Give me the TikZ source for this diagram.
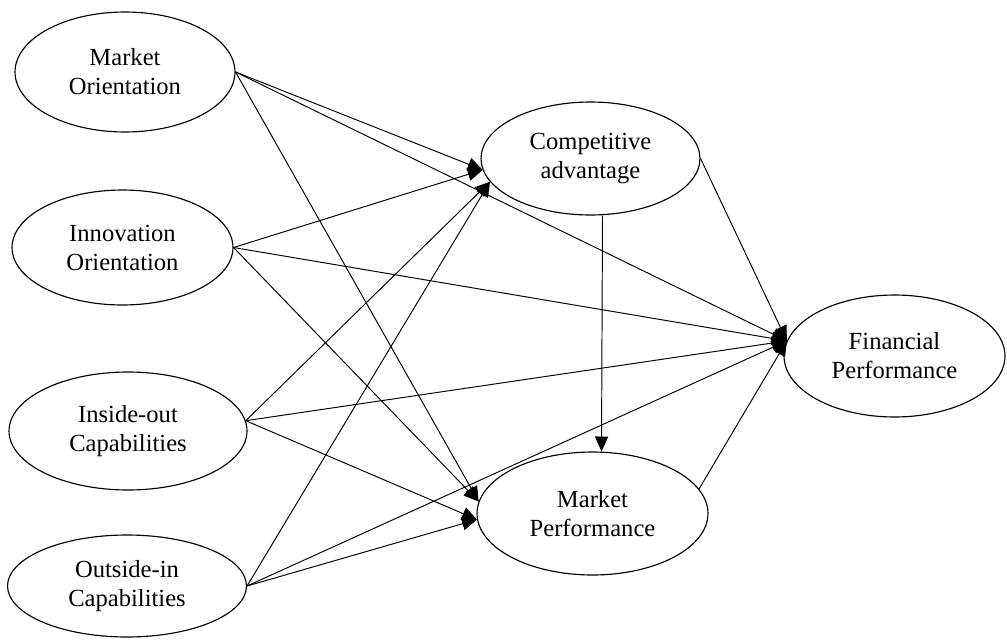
\documentclass[tikz,border=0pt]{standalone}
\usepackage{fontspec}
\setmainfont{Liberation Serif}
\usetikzlibrary{shapes.geometric}
\usetikzlibrary{arrows.meta}

\begin{document}
\begin{tikzpicture}[
        x = 0.02cm, y = -0.02cm,
        construct/.style = {shape = ellipse, draw = black, line width = 0.65pt, inner sep = 0pt, align = center, font = \fontsize{14}{16.5}\selectfont},
        arr/.style = {-{Triangle[length = 8.5pt, width = 7.5pt]}, line width = 0.55pt},
    ]
    \useasboundingbox (0,0) rectangle (1007,639);
    \node[construct, minimum width = 4.40cm, minimum height = 2.40cm] (MO) at (125,72) {Market\\Orientation};
    \node[construct, minimum width = 4.42cm, minimum height = 2.30cm] (IO) at (122.5,247.5) {Innovation\\Orientation};
    \node[construct, minimum width = 4.76cm, minimum height = 2.36cm] (IC) at (128,431) {Inside-out\\Capabilities};
    \node[construct, minimum width = 4.78cm, minimum height = 2.04cm] (OC) at (127,586) {Outside-in\\Capabilities};
    \node[construct, minimum width = 4.38cm, minimum height = 2.26cm] (CA) at (590.5,158.5) {Competitive\\advantage};
    \node[construct, minimum width = 4.62cm, minimum height = 2.46cm] (MP) at (592.5,513.5) {Market\\Performance};
    \node[construct, minimum width = 4.42cm, minimum height = 2.44cm] (FP) at (894.5,356) {Financial\\Performance};

    \path[arr] (MO.east) edge (CA.186);
    \path[arr] (MO.east) edge (FP.172);
    \path[arr] (MO.east) edge (MP.174);
    \path[arr] (IO.east) edge (CA.186);
    \path[arr] (IO.east) edge (FP.172);
    \path[arr] (IO.east) edge (MP.174);
    \path[arr] (IC.5) edge (CA.193);
    \path[arr] (IC.5) edge (FP.172);
    \path[arr] (IC.5) edge (MP.183);
    \path[arr] (OC.east) edge (CA.193);
    \path[arr] (OC.east) edge (FP.172);
    \path[arr] (OC.east) edge (MP.183);
    \path[arr] (CA.east) edge (FP.172);
    \path[arr] ([xshift = 0.24cm]CA.south) edge ([xshift = 0.18cm]MP.north);
    \path[arr] (MP.13) edge (FP.172);
\end{tikzpicture}
\end{document}
